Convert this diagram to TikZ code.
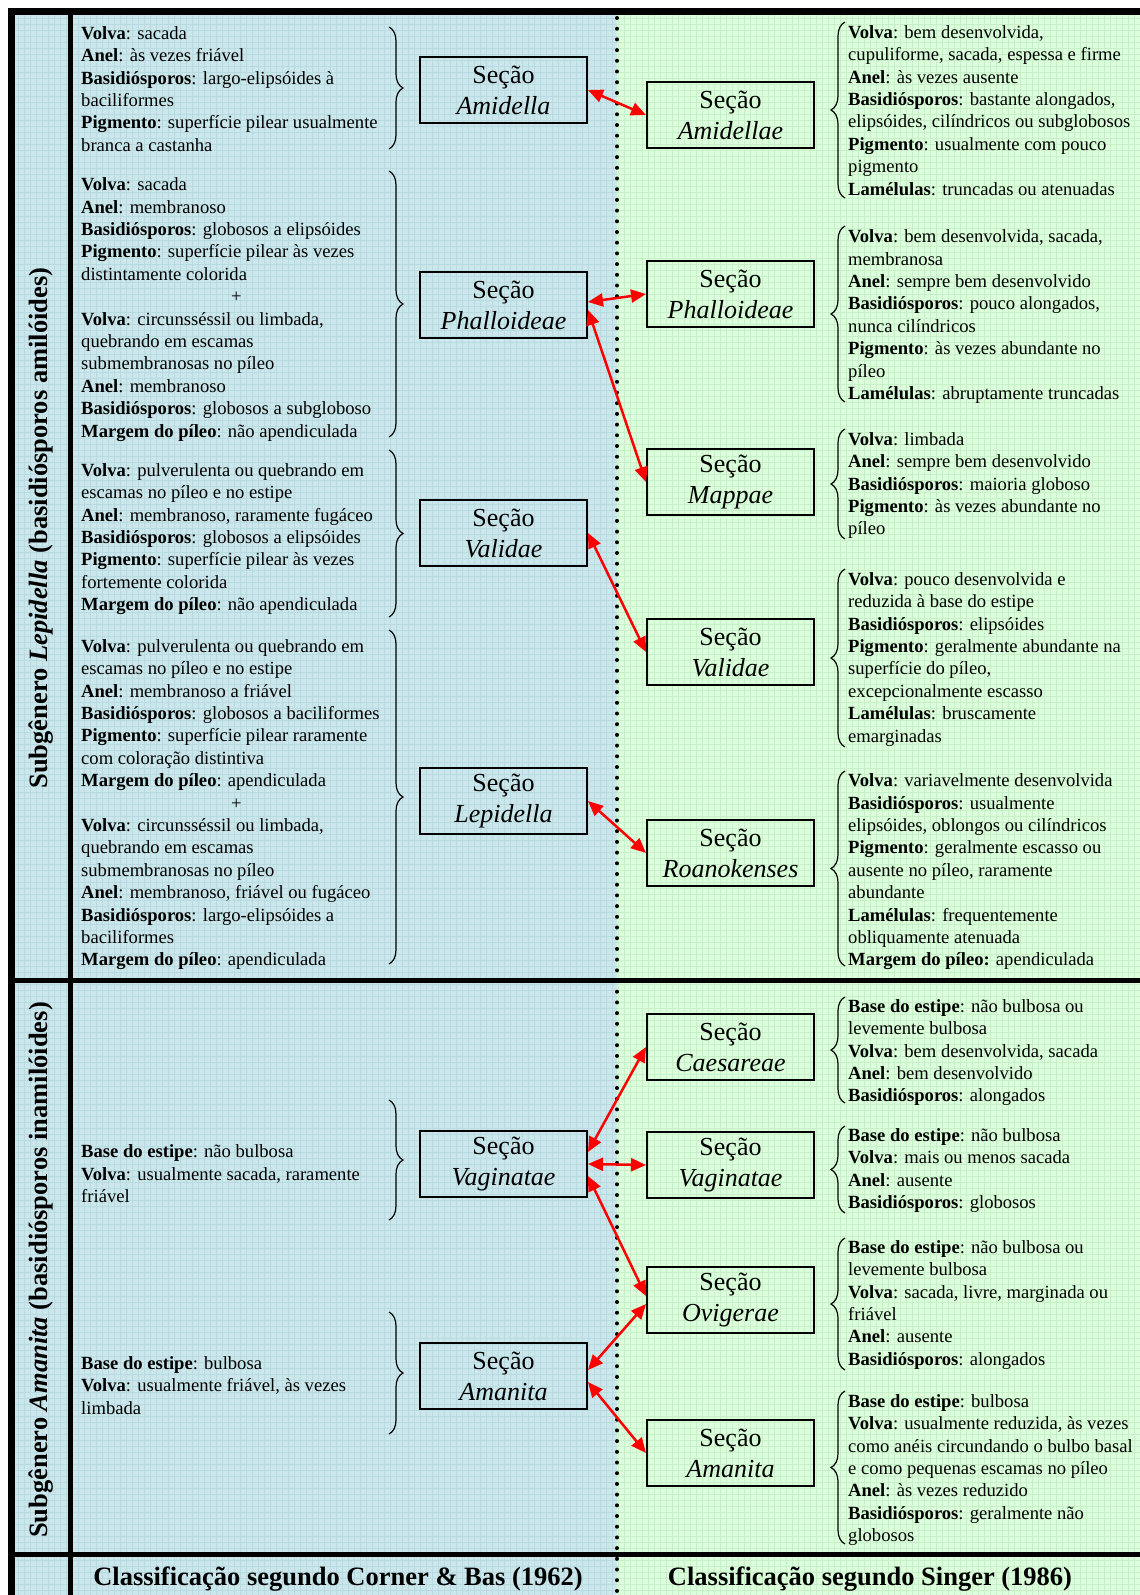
\documentclass[tikz,border=0pt]{standalone}
\usepackage{fontspec}
\setmainfont{Liberation Serif}
\usetikzlibrary{arrows.meta,decorations.pathreplacing,calc}
\definecolor{bgblue}{RGB}{204,231,235}
\definecolor{gridblue}{RGB}{184,219,225}
\definecolor{bggreen}{RGB}{220,255,220}
\definecolor{gridgreen}{RGB}{200,240,200}
\newcommand{\fls}{\rule{0pt}{17pt}}
\begin{document}
\begin{tikzpicture}[x=1pt,y=-1pt,
  info/.style={anchor=north west, inner sep=0pt, align=left, font=\fontsize{18.6}{22.4}\selectfont},
  sec/.style={draw, line width=2pt, minimum width=167pt, minimum height=66pt, align=center, inner sep=0pt, font=\fontsize{26}{31}\selectfont},
  lab/.style={inner sep=0pt, font=\bfseries\fontsize{26.5}{30}\selectfont},
  link/.style={red, line width=2.5pt, arrows={Triangle[length=15pt,width=13pt]-Triangle[length=15pt,width=13pt]}},
  brc/.style={decorate, decoration={brace, amplitude=14pt}, line width=1.2pt}]
\useasboundingbox (0,0) rectangle (1140,1595);
\fill[white] (0,0) rectangle (1140,1595);
\fill[bgblue] (15,15) rectangle (617,1595);
\fill[bggreen] (617,15) rectangle (1140,1595);
\draw[gridblue, line width=0.5pt, step=6pt] (15,15) grid (617,1595);
\draw[gridgreen, line width=0.5pt, step=6pt] (617,15) grid (1140,1595);
% frame lines
\fill[black] (8,8) rectangle (1140,15);
\fill[black] (8,8) rectangle (15,1595);
\fill[black] (68,15) rectangle (73,1595);
\fill[black] (8,978) rectangle (1140,983);
\fill[black] (8,1552) rectangle (1140,1557);
\draw[line width=4pt, line cap=round, dash pattern=on 0pt off 10.7pt] (617,18) -- (617,1595);

% side labels
\node[lab, rotate=90] (sub1) at (41,528) {Subgênero \textit{Lepidella} (basidiósporos amilóides)};
\node[lab, rotate=90] (sub2) at (41,1270) {Subgênero \textit{Amanita} (basidiósporos inamilóides)};
\node[lab, anchor=base] (cap1) at (338,1585) {Classificação segundo Corner \& Bas (1962)};
\node[lab, anchor=base] (cap2) at (870,1585) {Classificação segundo Singer (1986)};

% left boxes
\node[sec] (LAmi) at (503.5,90) {Seção\\\textit{Amidella}};
\node[sec] (LPha) at (503.5,305) {Seção\\\textit{Phalloideae}};
\node[sec] (LVal) at (503.5,533) {Seção\\\textit{Validae}};
\node[sec] (LLep) at (503.5,801) {Seção\\\textit{Lepidella}};
\node[sec] (LVag) at (503.5,1164) {Seção\\\textit{Vaginatae}};
\node[sec] (LAma) at (503.5,1376) {Seção\\\textit{Amanita}};
% right boxes
\node[sec] (RAmi) at (730.5,115) {Seção\\\textit{Amidellae}};
\node[sec] (RPha) at (730.5,294) {Seção\\\textit{Phalloideae}};
\node[sec] (RMap) at (730.5,482) {Seção\\\textit{Mappae}};
\node[sec] (RVal) at (730.5,652) {Seção\\\textit{Validae}};
\node[sec] (RRoa) at (730.5,853) {Seção\\\textit{Roanokenses}};
\node[sec] (RCae) at (730.5,1047) {Seção\\\textit{Caesareae}};
\node[sec] (RVag) at (730.5,1165) {Seção\\\textit{Vaginatae}};
\node[sec] (ROvi) at (730.5,1300) {Seção\\\textit{Ovigerae}};
\node[sec] (RAma) at (730.5,1453) {Seção\\\textit{Amanita}};

% left text blocks
\node[info] (tL1) at (81,22) {\fls\textbf{Volva}: sacada\\
\textbf{Anel}: às vezes friável\\
\textbf{Basidiósporos}: largo-elipsóides à\\
baciliformes\\
\textbf{Pigmento}: superfície pilear usualmente\\
branca a castanha};
\node[info] (tL2) at (81,173.5) {\fls\textbf{Volva}: sacada\\
\textbf{Anel}: membranoso\\
\textbf{Basidiósporos}: globosos a elipsóides\\
\textbf{Pigmento}: superfície pilear às vezes\\
distintamente colorida\\
\hspace*{150pt}+\\
\textbf{Volva}: circunsséssil ou limbada,\\
quebrando em escamas\\
submembranosas no píleo\\
\textbf{Anel}: membranoso\\
\textbf{Basidiósporos}: globosos a subgloboso\\
\textbf{Margem do píleo}: não apendiculada};
\node[info] (tL3) at (81,459) {\fls\textbf{Volva}: pulverulenta ou quebrando em\\
escamas no píleo e no estipe\\
\textbf{Anel}: membranoso, raramente fugáceo\\
\textbf{Basidiósporos}: globosos a elipsóides\\
\textbf{Pigmento}: superfície pilear às vezes\\
fortemente colorida\\
\textbf{Margem do píleo}: não apendiculada};
\node[info] (tL4) at (81,635) {\fls\textbf{Volva}: pulverulenta ou quebrando em\\
escamas no píleo e no estipe\\
\textbf{Anel}: membranoso a friável\\
\textbf{Basidiósporos}: globosos a baciliformes\\
\textbf{Pigmento}: superfície pilear raramente\\
com coloração distintiva\\
\textbf{Margem do píleo}: apendiculada\\
\hspace*{150pt}+\\
\textbf{Volva}: circunsséssil ou limbada,\\
quebrando em escamas\\
submembranosas no píleo\\
\textbf{Anel}: membranoso, friável ou fugáceo\\
\textbf{Basidiósporos}: largo-elipsóides a\\
baciliformes\\
\textbf{Margem do píleo}: apendiculada};
\node[info] (tL5) at (81,1140.5) {\fls\textbf{Base do estipe}: não bulbosa\\
\textbf{Volva}: usualmente sacada, raramente\\
friável};
\node[info] (tL6) at (81,1352) {\fls\textbf{Base do estipe}: bulbosa\\
\textbf{Volva}: usualmente friável, às vezes\\
limbada};

% right text blocks
\node[info] (tR1) at (848,21) {\fls\textbf{Volva}: bem desenvolvida,\\
cupuliforme, sacada, espessa e firme\\
\textbf{Anel}: às vezes ausente\\
\textbf{Basidiósporos}: bastante alongados,\\
elipsóides, cilíndricos ou subglobosos\\
\textbf{Pigmento}: usualmente com pouco\\
pigmento\\
\textbf{Lamélulas}: truncadas ou atenuadas};
\node[info] (tR2) at (848,225.5) {\fls\textbf{Volva}: bem desenvolvida, sacada,\\
membranosa\\
\textbf{Anel}: sempre bem desenvolvido\\
\textbf{Basidiósporos}: pouco alongados,\\
nunca cilíndricos\\
\textbf{Pigmento}: às vezes abundante no\\
píleo\\
\textbf{Lamélulas}: abruptamente truncadas};
\node[info] (tR3) at (848,428) {\fls\textbf{Volva}: limbada\\
\textbf{Anel}: sempre bem desenvolvido\\
\textbf{Basidiósporos}: maioria globoso\\
\textbf{Pigmento}: às vezes abundante no\\
píleo};
\node[info] (tR4) at (848,568) {\fls\textbf{Volva}: pouco desenvolvida e\\
reduzida à base do estipe\\
\textbf{Basidiósporos}: elipsóides\\
\textbf{Pigmento}: geralmente abundante na\\
superfície do píleo,\\
excepcionalmente escasso\\
\textbf{Lamélulas}: bruscamente\\
emarginadas};
\node[info] (tR5) at (848,769.5) {\fls\textbf{Volva}: variavelmente desenvolvida\\
\textbf{Basidiósporos}: usualmente\\
elipsóides, oblongos ou cilíndricos\\
\textbf{Pigmento}: geralmente escasso ou\\
ausente no píleo, raramente\\
abundante\\
\textbf{Lamélulas}: frequentemente\\
obliquamente atenuada\\
\textbf{Margem do píleo:} apendiculada};
\node[info] (tR6) at (848,995) {\fls\textbf{Base do estipe}: não bulbosa ou\\
levemente bulbosa\\
\textbf{Volva}: bem desenvolvida, sacada\\
\textbf{Anel}: bem desenvolvido\\
\textbf{Basidiósporos}: alongados};
\node[info] (tR7) at (848,1124) {\fls\textbf{Base do estipe}: não bulbosa\\
\textbf{Volva}: mais ou menos sacada\\
\textbf{Anel}: ausente\\
\textbf{Basidiósporos}: globosos};
\node[info] (tR8) at (848,1236) {\fls\textbf{Base do estipe}: não bulbosa ou\\
levemente bulbosa\\
\textbf{Volva}: sacada, livre, marginada ou\\
friável\\
\textbf{Anel}: ausente\\
\textbf{Basidiósporos}: alongados};
\node[info] (tR9) at (848,1390) {\fls\textbf{Base do estipe}: bulbosa\\
\textbf{Volva}: usualmente reduzida, às vezes\\
como anéis circundando o bulbo basal\\
e como pequenas escamas no píleo\\
\textbf{Anel}: às vezes reduzido\\
\textbf{Basidiósporos}: geralmente não\\
globosos};

% braces
\draw[brc] (389,27) -- (389,149);
\draw[brc] (389,171) -- (389,437);
\draw[brc] (389,450) -- (389,617);
\draw[brc] (389,630) -- (389,964);
\draw[brc] (389,1100) -- (389,1220);
\draw[brc] (389,1312) -- (389,1434);
\draw[brc] (845,198) -- (845,22);
\draw[brc] (845,402) -- (845,226);
\draw[brc] (845,539) -- (845,429);
\draw[brc] (845,747) -- (845,569);
\draw[brc] (845,966) -- (845,771);
\draw[brc] (845,1103) -- (845,997);
\draw[brc] (845,1213) -- (845,1126);
\draw[brc] (845,1370) -- (845,1238);
\draw[brc] (845,1544) -- (845,1391);

% links
\draw[link] (LAmi.east) -- (RAmi.west);
\draw[link] ($(LPha.east)+(0,-3)$) -- (RPha.west);
\draw[link] ($(LPha.east)+(0,5)$) -- (RMap.west);
\draw[link] (LVal.east) -- (RVal.west);
\draw[link] (LLep.east) -- (RRoa.west);
\draw[link] ($(LVag.east)+(0,-12)$) -- (RCae.west);
\draw[link] (LVag.east) -- (RVag.west);
\draw[link] ($(LVag.east)+(0,12)$) -- ($(ROvi.west)+(0,-4)$);
\draw[link] ($(LAma.east)+(0,-6)$) -- ($(ROvi.west)+(0,4)$);
\draw[link] ($(LAma.east)+(0,6)$) -- (RAma.west);
\end{tikzpicture}
\end{document}
